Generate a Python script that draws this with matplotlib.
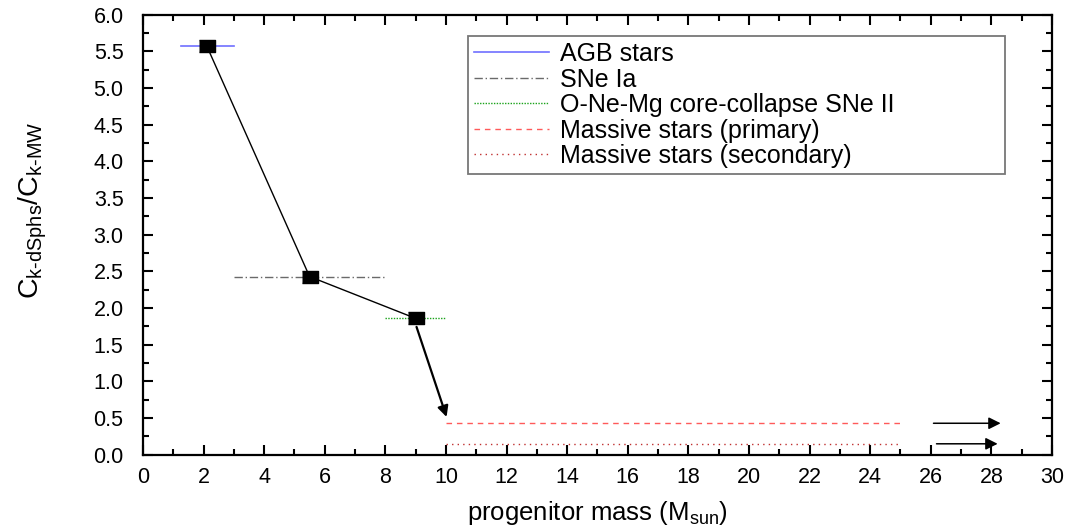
import matplotlib.pyplot as plt
from matplotlib.ticker import MultipleLocator

plt.rcParams['font.family'] = ['Liberation Sans', 'DejaVu Sans']
plt.rcParams['mathtext.fontset'] = 'custom'
plt.rcParams['mathtext.rm'] = 'Liberation Sans'
plt.rcParams['mathtext.it'] = 'Liberation Sans'

# progenitor channels: mass of the point, ratio, and mass range of the bar
mass = [2.1, 5.5, 9.0]
ratio = [5.58, 2.43, 1.86]
ranges = [(1.25, 3.0), (3.0, 8.0), (8.0, 10.0)]

massive_range = (10.0, 25.0)
massive_primary = 0.43
massive_secondary = 0.15

labels = ["AGB stars", "SNe Ia", "O-Ne-Mg core-collapse SNe II",
          "Massive stars (primary)", "Massive stars (secondary)"]

fig = plt.figure(figsize=(10.7, 5.27), dpi=100)
ax = fig.add_axes([0.1336, 0.137, 0.8495, 0.835])

ax.plot(ranges[0], [ratio[0]] * 2, color="#6f6fff", lw=1.2, label=labels[0])
ax.plot(ranges[1], [ratio[1]] * 2, color="#6a6a6a", lw=1.0, ls=(0, (6, 2, 1, 2)), label=labels[1])
ax.plot(ranges[2], [ratio[2]] * 2, color="#1aa31a", lw=1.0, ls=(0, (1, 1)), label=labels[2])
ax.plot(massive_range, [massive_primary] * 2, color="#ff5a5a", lw=1.0, ls=(0, (4, 3.5)), label=labels[3])
ax.plot(massive_range, [massive_secondary] * 2, color="#c03030", lw=1.0, ls=(0, (1, 3)), label=labels[4])

rect = [(-1.4, -1), (1.4, -1), (1.4, 1), (-1.4, 1)]
ax.plot(mass, ratio, color="black", lw=1.0, marker=rect, markersize=11.5, zorder=5)

# arrows toward massive stars and beyond 25 Msun
ax.annotate("", xy=(10.05, 0.48), xytext=(9.0, 1.78),
            arrowprops=dict(arrowstyle="-|>", color="black", lw=1.6, mutation_scale=16))
ax.annotate("", xy=(28.4, massive_primary), xytext=(26.0, massive_primary),
            arrowprops=dict(arrowstyle="-|>", color="black", lw=1.1, mutation_scale=18))
ax.annotate("", xy=(28.3, massive_secondary), xytext=(26.1, massive_secondary),
            arrowprops=dict(arrowstyle="-|>", color="black", lw=1.1, mutation_scale=18))

ax.set_xlim(0, 30)
ax.set_ylim(0, 6)
ax.xaxis.set_major_locator(MultipleLocator(2))
ax.xaxis.set_minor_locator(MultipleLocator(1))
ax.yaxis.set_major_locator(MultipleLocator(0.5))
ax.yaxis.set_minor_locator(MultipleLocator(0.25))
ax.yaxis.set_major_formatter(plt.FormatStrFormatter("%.1f"))
ax.tick_params(which="both", direction="in", top=True, right=True, labelsize=15.5, width=1.5)
ax.tick_params(which="major", length=7)
ax.tick_params(which="minor", length=4)
ax.tick_params(axis="y", which="major", pad=14)
ax.tick_params(axis="x", which="major", pad=9)
for spine in ax.spines.values():
    spine.set_linewidth(1.6)

ax.set_xlabel(r"progenitor mass (M$_{\mathrm{sun}}$)", fontsize=18.5, labelpad=8)
ax.set_ylabel(r"C$_{\mathrm{k\text{-}dSphs}}$/C$_{\mathrm{k\text{-}MW}}$", fontsize=20.5)
ax.yaxis.set_label_coords(-0.103, 0.555)

leg = ax.legend(loc="upper left", bbox_to_anchor=(0.3575, 0.952, 0.591, 0.0), mode="expand",
                fontsize=18, frameon=True, fancybox=False, edgecolor="#555555",
                handlelength=3.0, handletextpad=0.45, borderpad=0.25, labelspacing=0.06,
                borderaxespad=0)
leg.get_frame().set_linewidth(1.3)

fig.savefig("out.png", dpi=100)
